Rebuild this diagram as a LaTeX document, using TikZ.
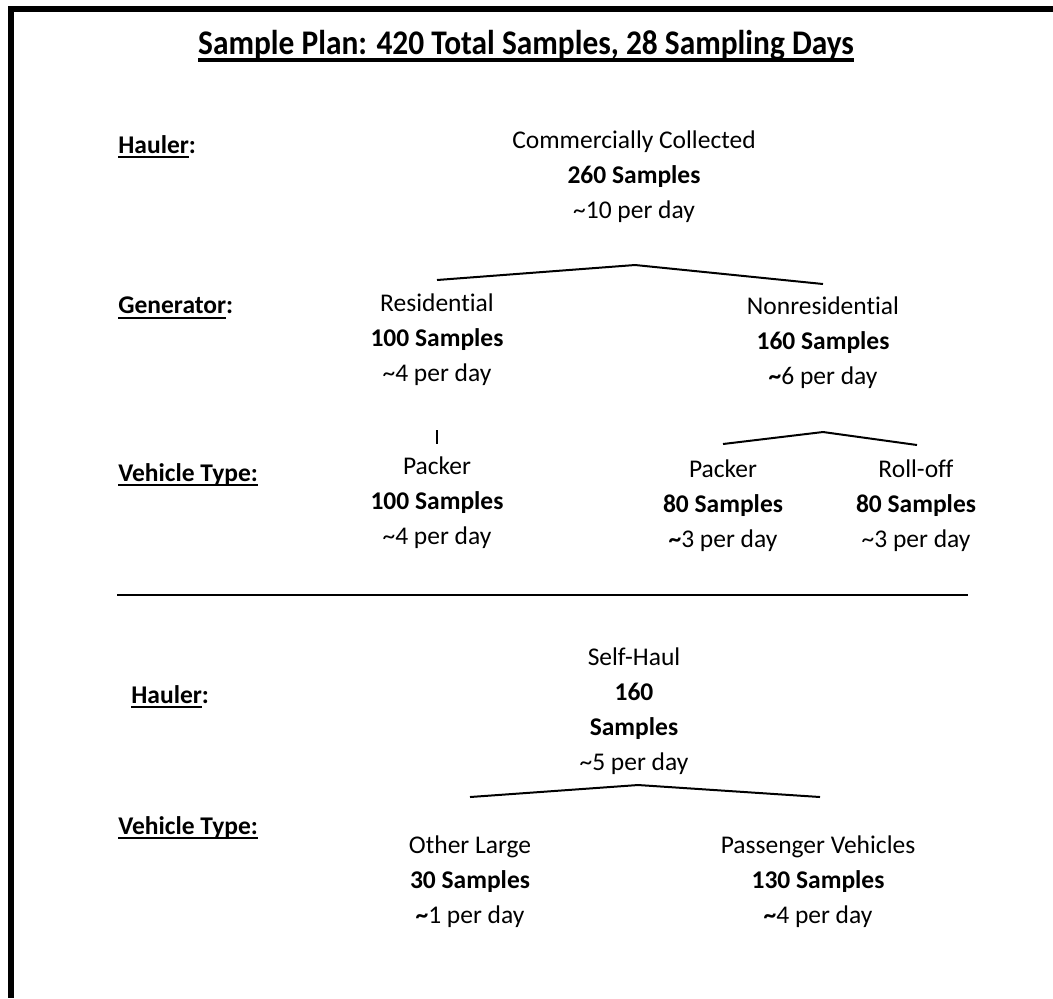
\documentclass[tikz,border=0pt]{standalone}
\usepackage{fontspec}
\setmainfont[Ligatures={NoCommon}]{Carlito}

% underline close to the baseline, as in the plan
\newcommand{\undl}[1]{\setbox0\hbox{#1}\rlap{\rule[-2.5pt]{\wd0}{1.1pt}}\box0}
\newcommand{\ttlul}[1]{\setbox0\hbox{#1}\rlap{\rule[-3.4pt]{\wd0}{1.8pt}}\box0}
\newcommand{\bt}{{\bfseries\textasciitilde}}

\begin{document}
\begin{tikzpicture}[x=0.5pt, y=-0.5pt,
    lbl/.style={align=center, inner sep=0pt, font=\fontsize{12.75}{17.5}\selectfont},
    lvl/.style={anchor=west, inner sep=0pt, font=\fontsize{12.75}{17.5}\selectfont\bfseries},
    branch/.style={line width=1pt}]

        \useasboundingbox (0,0) rectangle (1053,998);

        % Frame (left and top only)
        \fill (8,6) rectangle (1053,12);
        \fill (8,6) rectangle (14,998);

        % Title
        \node[inner sep=0pt, font=\fontsize{15.7}{18}\selectfont\bfseries] (title) at (526,46)
            {\scalebox{1}[1.1]{\ttlul{Sample Plan: 420 Total Samples, 28 Sampling Days}}};

        % Level labels
        \node[lvl] (haulA) at (118,147) {\undl{Hauler}:};
        \node[lvl] (gen)   at (118,308) {\undl{Generator}:};
        \node[lvl] (vehA)  at (118,475) {\undl{Vehicle Type:}};
        \node[lvl] (haulB) at (131,697) {\undl{Hauler}:};
        \node[lvl] (vehB)  at (118,828) {\undl{Vehicle Type:}};

        % Commercially collected tree
        \node[lbl] (comm) at (634,177) {Commercially Collected\\\textbf{260 Samples}\\\textasciitilde10 per day};
        \node[lbl] (res)  at (437,340) {Residential\\\textbf{100 Samples}\\\textasciitilde4 per day};
        \node[lbl] (nres) at (823,343) {Nonresidential\\\textbf{160 Samples}\\\bt6 per day};
        \node[lbl] (packA) at (437,503) {Packer\\\textbf{100 Samples}\\\textasciitilde4 per day};
        \node[lbl] (packB) at (723,506) {Packer\\\textbf{80 Samples}\\\bt3 per day};
        \node[lbl] (roll)  at (916,506) {Roll-off\\\textbf{80 Samples}\\\textasciitilde3 per day};

        \coordinate (commL) at (437,280);
        \coordinate (commT) at (635,265);
        \coordinate (commR) at (823,284);
        \draw[branch] (commL) -- (commT) -- (commR);

        \coordinate (resT) at (437,430);
        \coordinate (resB) at (437,444);
        \draw[line width=0.7pt] (resT) -- (resB);

        \coordinate (nresL) at (723,444);
        \coordinate (nresT) at (823,432);
        \coordinate (nresR) at (917,445);
        \draw[branch] (nresL) -- (nresT) -- (nresR);

        % Separator
        \coordinate (sepL) at (117,595);
        \coordinate (sepR) at (968,595);
        \draw[line width=1.2pt] (sepL) -- (sepR);

        % Self-haul tree
        \node[lbl] (self)  at (634,711) {Self-Haul\\\textbf{160}\\\textbf{Samples}\\\textasciitilde5 per day};
        \node[lbl] (large) at (470,882) {Other Large\\\textbf{30 Samples}\\\bt1 per day};
        \node[lbl] (pass)  at (818,882) {Passenger Vehicles\\\textbf{130 Samples}\\\bt4 per day};

        \coordinate (selfL) at (470,797);
        \coordinate (selfT) at (638,785);
        \coordinate (selfR) at (820,797);
        \draw[branch] (selfL) -- (selfT) -- (selfR);

    \end{tikzpicture}
\end{document}
